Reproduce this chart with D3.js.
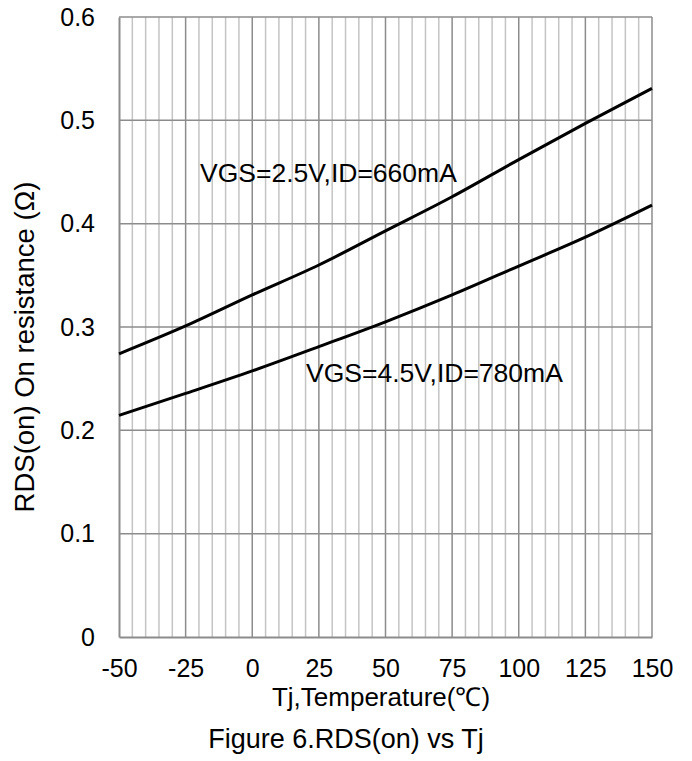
<!DOCTYPE html>
<html>
<head>
<meta charset="utf-8">
<script src="https://cdn.jsdelivr.net/npm/d3@7"></script>
<style>
  body { margin: 0; background: #fff; }
  svg text { font-family: "Liberation Sans", Arial, sans-serif; fill: #000; }
</style>
</head>
<body>
<svg id="chart" width="692" height="761"></svg>
<script>
var TEMPS = [-50, -25, 0, 25, 50, 75, 100, 125, 150];
var RDS_25V = [0.274, 0.301, 0.331, 0.360, 0.393, 0.426, 0.462, 0.497, 0.531];
var RDS_45V = [0.2145, 0.2357, 0.2575, 0.281, 0.305, 0.331, 0.359, 0.387, 0.418];
var X_TICKS = [-50, -25, 0, 25, 50, 75, 100, 125, 150];
var Y_TICKS = [0, 0.1, 0.2, 0.3, 0.4, 0.5, 0.6];
var LABEL_25V = 'VGS=2.5V,ID=660mA';
var LABEL_45V = 'VGS=4.5V,ID=780mA';

var svg = d3.select('#chart');
var plotL = 119, plotR = 652, plotT = 17, plotB = 637;

var x = d3.scaleLinear().domain([-50, 150]).range([plotL, plotR]);
var y = d3.scaleLinear().domain([0, 0.6]).range([plotB, plotT]);

// minor vertical grid every 5 deg
var minor = d3.range(-45, 150, 5).filter(function(d){ return d % 25 !== 0; });
svg.append('g').selectAll('line').data(minor).enter().append('line')
  .attr('x1', function(d){ return x(d); }).attr('x2', function(d){ return x(d); })
  .attr('y1', plotT).attr('y2', plotB)
  .attr('stroke', '#c4c4c4').attr('stroke-width', 1.5);

// major vertical grid
svg.append('g').selectAll('line').data(X_TICKS.slice(1)).enter().append('line')
  .attr('x1', function(d){ return x(d); }).attr('x2', function(d){ return x(d); })
  .attr('y1', plotT).attr('y2', plotB)
  .attr('stroke', '#8c8c8c').attr('stroke-width', 1.5);

// horizontal grid
svg.append('g').selectAll('line').data(Y_TICKS.slice(1)).enter().append('line')
  .attr('x1', plotL).attr('x2', plotR)
  .attr('y1', function(d){ return y(d); }).attr('y2', function(d){ return y(d); })
  .attr('stroke', '#8c8c8c').attr('stroke-width', 1.5);

// axes
var yAxis = svg.append('g').attr('transform', 'translate(' + plotL + ',0)')
  .call(d3.axisLeft(y).tickValues(Y_TICKS).tickSize(0).tickPadding(24)
    .tickFormat(function(d){ return d === 0 ? '0' : d.toFixed(1); }));
var xAxis = svg.append('g').attr('transform', 'translate(0,' + plotB + ')')
  .call(d3.axisBottom(x).tickValues(X_TICKS).tickSize(0).tickPadding(22)
    .tickFormat(function(d){ return String(d); }));

[yAxis, xAxis].forEach(function(a){
  a.select('.domain').attr('stroke', '#8c8c8c').attr('stroke-width', 2);
  a.selectAll('text').style('font-size', '25px').attr('fill', '#000');
});

var line = d3.line()
  .x(function(d){ return x(d[0]); })
  .y(function(d){ return y(d[1]); })
  .curve(d3.curveMonotoneX);

[RDS_25V, RDS_45V].forEach(function(vals){
  svg.append('path')
    .datum(TEMPS.map(function(t, i){ return [t, vals[i]]; }))
    .attr('d', line)
    .attr('fill', 'none')
    .attr('stroke', '#000')
    .attr('stroke-width', 3);
});

svg.append('text').attr('x', 200).attr('y', 182)
  .style('font-size', '26.5px').text(LABEL_25V);
svg.append('text').attr('x', 306).attr('y', 382)
  .style('font-size', '26.5px').text(LABEL_45V);

svg.append('text')
  .attr('x', 381).attr('y', 706)
  .attr('text-anchor', 'middle').style('font-size', '26px')
  .text('Tj,Temperature(℃)');

svg.append('text')
  .attr('transform', 'translate(34,347) rotate(-90)')
  .attr('text-anchor', 'middle').style('font-size', '27.5px')
  .text('RDS(on) On resistance (Ω)');

svg.append('text')
  .attr('x', 346).attr('y', 748)
  .attr('text-anchor', 'middle').style('font-size', '27px')
  .text('Figure 6.RDS(on) vs Tj');
</script>
</body>
</html>
